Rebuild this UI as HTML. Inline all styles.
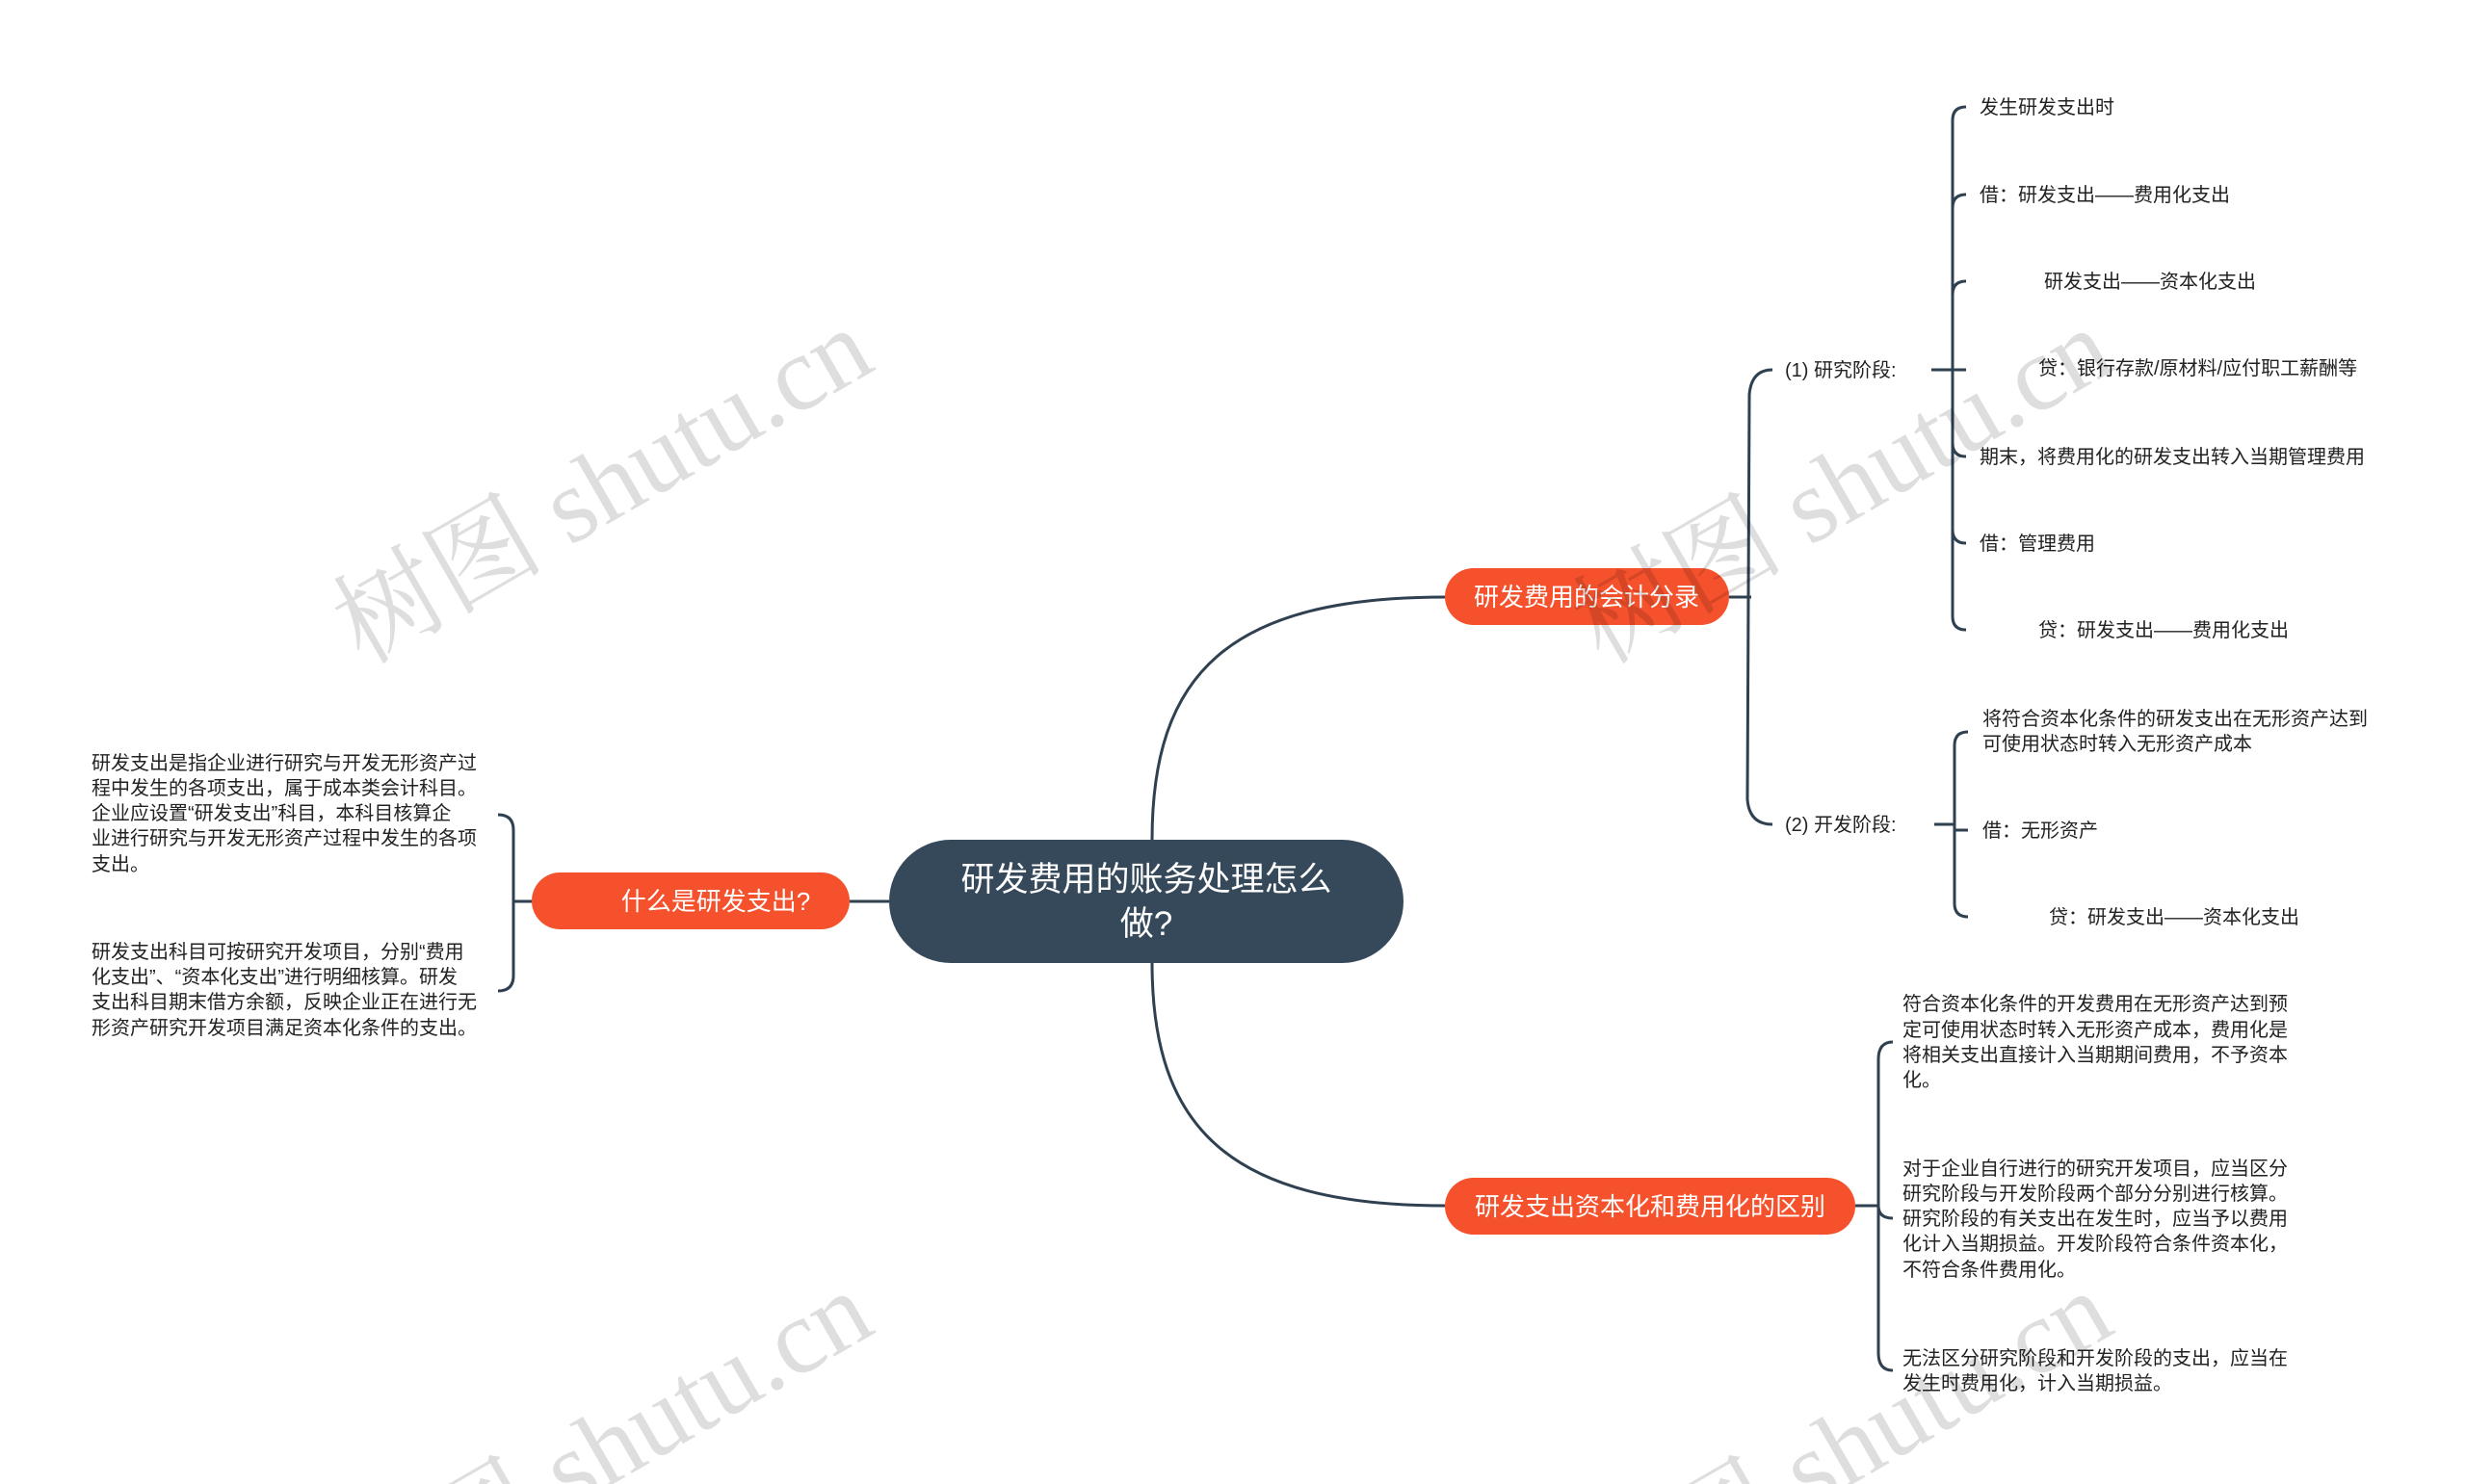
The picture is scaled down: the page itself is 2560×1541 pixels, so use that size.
<!DOCTYPE html>
<html><head><meta charset="utf-8"><style>
html,body{margin:0;padding:0;background:#fff;width:2560px;height:1541px;overflow:hidden;}
svg{display:block;}
text{font-family:"Liberation Sans","Noto Sans CJK SC",sans-serif;}
.s{font-size:20px;fill:#222;}
.n{font-size:26px;fill:#fff;}
.wm{font-family:"Liberation Serif","Noto Serif CJK SC",serif;font-size:110px;fill:#000;fill-opacity:0.13;}
</style></head><body>
<svg width="2560" height="1541" viewBox="0 0 2560 1541" xmlns="http://www.w3.org/2000/svg" overflow="hidden">
<g transform="translate(-5,0)">
<g fill="none" stroke="#2f4050" stroke-width="3">
<path d="M1201 872 C1201 700 1280 620 1505 620"/>
<path d="M1201 1000 C1201 1170 1280 1252 1505 1252"/>
<path d="M928 936 L887 936"/>
<path d="M557 936 L538 936"/>
<path d="M522 846 Q538 846 538 862 L538 1013 Q538 1029 522 1029"/>
<path d="M1800 620 L1823 620"/>
<path d="M1845 384 Q1823 384 1821 410 L1819 830 Q1821 856 1845 856"/>
<path d="M2010 384 L2032 384"/>
<path d="M2046 111 Q2032 111 2032 125 L2032 640 Q2032 654 2046 654"/>
<path d="M2032 216 Q2032 202 2046 202"/>
<path d="M2032 306 Q2032 292 2046 292"/>
<path d="M2032 384 L2046 384"/>
<path d="M2032 460 Q2032 474 2046 474"/>
<path d="M2032 550 Q2032 564 2046 564"/>
<path d="M2013 856 L2034 856"/>
<path d="M2048 760 Q2034 760 2034 774 L2034 938 Q2034 952 2048 952"/>
<path d="M2034 862 L2048 862"/>
<path d="M1931 1252 L1955 1252"/>
<path d="M1970 1082 Q1955 1082 1955 1100 L1955 1405 Q1955 1423 1970 1423"/>
<path d="M1955 1252 Q1955 1265 1970 1265"/>
</g>
<rect x="928" y="872" width="534" height="128" rx="64" fill="#35495a"/>
<text x="1195" y="925" text-anchor="middle" fill="#fff" style="font-size:35px">研发费用的账务处理怎么</text>
<text x="1195" y="971" text-anchor="middle" fill="#fff" style="font-size:35px">做?</text>
<rect x="557" y="906" width="330" height="59" rx="29.5" fill="#f4512c"/>
<text x="748" y="945" text-anchor="middle" class="n">什么是研发支出?</text>
<rect x="1505" y="590" width="295" height="59" rx="29.5" fill="#f4512c"/>
<text x="1652" y="629" text-anchor="middle" class="n">研发费用的会计分录</text>
<rect x="1505" y="1223" width="426" height="59" rx="29.5" fill="#f4512c"/>
<text x="1718" y="1262" text-anchor="middle" class="n">研发支出资本化和费用化的区别</text>
<g class="s">
<text x="100" y="799">研发支出是指企业进行研究与开发无形资产过</text>
<text x="100" y="825">程中发生的各项支出，属于成本类会计科目。</text>
<text x="100" y="851">企业应设置“研发支出”科目，本科目核算企</text>
<text x="100" y="877">业进行研究与开发无形资产过程中发生的各项</text>
<text x="100" y="904">支出。</text>
<text x="100" y="995">研发支出科目可按研究开发项目，分别“费用</text>
<text x="100" y="1021">化支出”、“资本化支出”进行明细核算。研发</text>
<text x="100" y="1047">支出科目期末借方余额，反映企业正在进行无</text>
<text x="100" y="1074">形资产研究开发项目满足资本化条件的支出。</text>
<text x="1858" y="391">(1) 研究阶段:</text>
<text x="1858" y="863">(2) 开发阶段:</text>
<text x="2060" y="118">发生研发支出时</text>
<text x="2060" y="209">借：研发支出——费用化支出</text>
<text x="2127" y="299">研发支出——资本化支出</text>
<text x="2121" y="389">贷：银行存款/原材料/应付职工薪酬等</text>
<text x="2060" y="481">期末，将费用化的研发支出转入当期管理费用</text>
<text x="2060" y="571">借：管理费用</text>
<text x="2121" y="661">贷：研发支出——费用化支出</text>
<text x="2063" y="753">将符合资本化条件的研发支出在无形资产达到</text>
<text x="2063" y="779">可使用状态时转入无形资产成本</text>
<text x="2063" y="869">借：无形资产</text>
<text x="2132" y="959">贷：研发支出——资本化支出</text>
<text x="1980" y="1049">符合资本化条件的开发费用在无形资产达到预</text>
<text x="1980" y="1076">定可使用状态时转入无形资产成本，费用化是</text>
<text x="1980" y="1102">将相关支出直接计入当期期间费用，不予资本</text>
<text x="1980" y="1128">化。</text>
<text x="1980" y="1220">对于企业自行进行的研究开发项目，应当区分</text>
<text x="1980" y="1246">研究阶段与开发阶段两个部分分别进行核算。</text>
<text x="1980" y="1272">研究阶段的有关支出在发生时，应当予以费用</text>
<text x="1980" y="1298">化计入当期损益。开发阶段符合条件资本化，</text>
<text x="1980" y="1325">不符合条件费用化。</text>
<text x="1980" y="1417">无法区分研究阶段和开发阶段的支出，应当在</text>
<text x="1980" y="1443">发生时费用化，计入当期损益。</text>
</g>
<text class="wm" x="637" y="540" text-anchor="middle" transform="rotate(-30 637 516)">树图 shutu.cn</text>
<text class="wm" x="1924" y="540" text-anchor="middle" transform="rotate(-30 1924 516)">树图 shutu.cn</text>
<text class="wm" x="637" y="1540" text-anchor="middle" transform="rotate(-30 637 1516)">树图 shutu.cn</text>
<text class="wm" x="1924" y="1540" text-anchor="middle" transform="rotate(-30 1924 1516)">树图 shutu.cn</text>
</g>
</svg>
</body></html>
